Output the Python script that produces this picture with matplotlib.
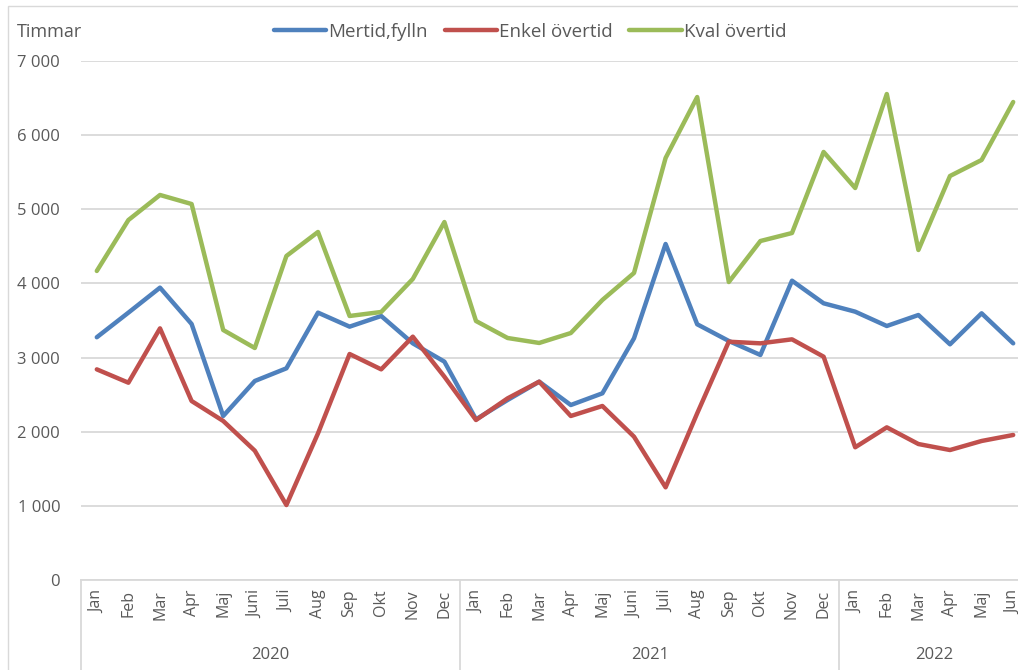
import matplotlib.pyplot as plt
from matplotlib.patches import Rectangle
from matplotlib.transforms import blended_transform_factory

months = ["Jan", "Feb", "Mar", "Apr", "Maj", "Juni", "Juli", "Aug", "Sep", "Okt", "Nov", "Dec",
          "Jan", "Feb", "Mar", "Apr", "Maj", "Juni", "Juli", "Aug", "Sep", "Okt", "Nov", "Dec",
          "Jan", "Feb", "Mar", "Apr", "Maj", "Jun"]
years = ["2020", "2021", "2022"]
year_len = [12, 12, 6]

mertid = [3274, 3606, 3943, 3453, 2212, 2684, 2855, 3606, 3417, 3561, 3192, 2945,
          2167, 2428, 2675, 2360, 2518, 3260, 4532, 3449, 3224, 3035, 4037, 3732,
          3619, 3426, 3574, 3179, 3597, 3192]
enkel = [2841, 2661, 3394, 2414, 2145, 1744, 1011, 1978, 3048, 2841, 3282, 2742,
         2158, 2450, 2675, 2212, 2347, 1933, 1250, 2248, 3214, 3192, 3246, 3012,
         1790, 2059, 1834, 1753, 1875, 1956]
kval = [4168, 4855, 5193, 5071, 3372, 3129, 4370, 4694, 3561, 3615, 4060, 4828,
        3493, 3264, 3197, 3331, 3777, 4141, 5692, 6514, 4019, 4572, 4680, 5773,
        5287, 6555, 4451, 5449, 5665, 6447]

series = [("Mertid,fylln", mertid, "#4F81BD"),
          ("Enkel övertid", enkel, "#C0504D"),
          ("Kval övertid", kval, "#9BBB59")]

plt.rcParams['font.family'] = ['Open Sans', 'DejaVu Sans']
txt = "#595959"
grid = "#D9D9D9"

W, H = 1018, 670
fig = plt.figure(figsize=(W / 100, H / 100), dpi=100)

# outer chart border (partly outside the picture)
fig.patches.append(Rectangle((8 / W, -0.1), 1.2, 1 - 6 / H + 0.1, transform=fig.transFigure,
                             fill=False, edgecolor=grid, lw=1))

ax = fig.add_axes([81 / W, (H - 580) / H, (1029 - 81) / W, (580 - 61) / H])
x = list(range(len(months)))
for name, vals, col in series:
    ax.plot(x, vals, color=col, lw=3.2, label=name, solid_capstyle="round", solid_joinstyle="round")

ax.set_xlim(-0.5, len(months) - 0.5)
ax.set_ylim(0, 7000)
ax.set_yticks(range(0, 7001, 1000))
ax.set_yticklabels([f"{v:,}".replace(",", " ") for v in range(0, 7001, 1000)])
ax.yaxis.grid(True, color=grid, lw=1.3)
ax.set_axisbelow(True)
for s in ["left", "right", "top"]:
    ax.spines[s].set_visible(False)
ax.spines["bottom"].set_color(grid)
ax.spines["bottom"].set_linewidth(1.3)
ax.tick_params(axis="y", length=0, pad=15, labelsize=12, labelcolor=txt)
ax.set_xticks(x)
ax.set_xticklabels(months, rotation=90, fontsize=11.5, color=txt)
ax.tick_params(axis="x", length=0, pad=7)

# year groups under the month labels
tr = blended_transform_factory(ax.transData, ax.transAxes)
start = 0
bottom = -(H - 580) / (580 - 61)
for yr, n in zip(years, year_len):
    ax.plot([start - 0.5, start - 0.5], [0, bottom], color=grid, lw=1.3, transform=tr, clip_on=False)
    ax.text(start + n / 2 - 0.5, -75 / (580 - 61), yr, transform=tr, ha="center", va="center",
            fontsize=12, color=txt)
    start += n

fig.text(17 / W, 1 - 32 / H, "Timmar", ha="left", va="center", fontsize=13, color=txt)
fig.legend(loc="center", bbox_to_anchor=(530 / W, 1 - 32 / H), ncol=3, frameon=False,
           fontsize=13.5, labelcolor=txt, handlelength=2.8, handletextpad=0.1, columnspacing=0.9)

fig.savefig("out.png", dpi=100)
